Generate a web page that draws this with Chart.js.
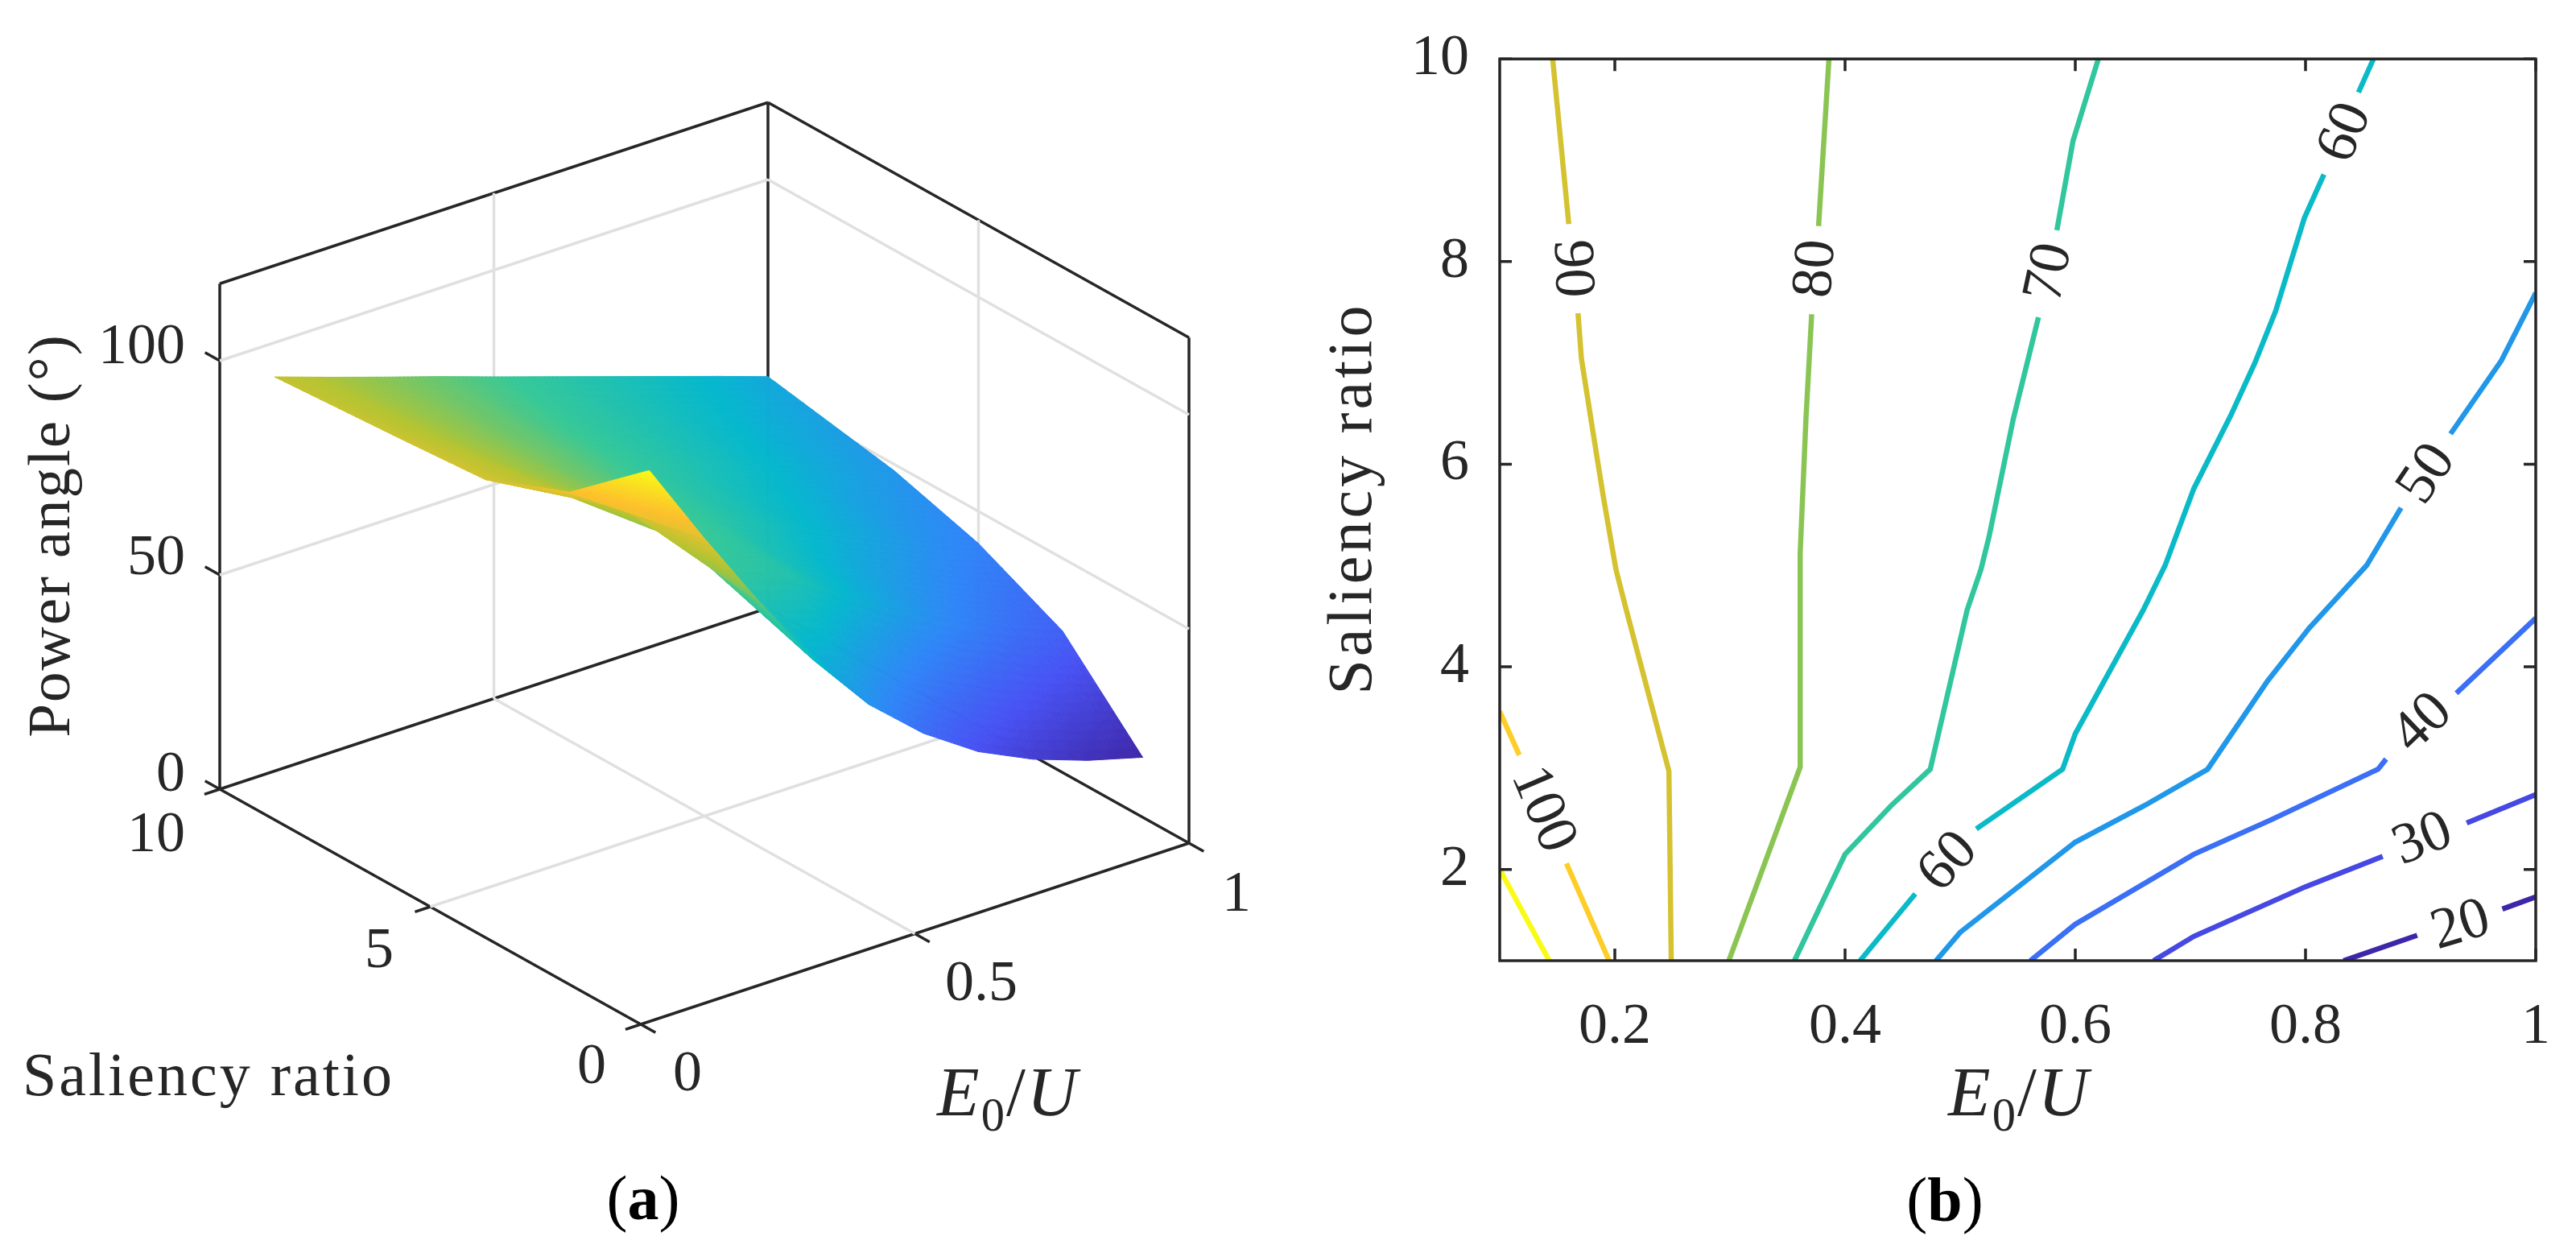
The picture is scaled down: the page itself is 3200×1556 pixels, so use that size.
<!DOCTYPE html>
<html>
<head>
<meta charset="utf-8">
<script src="https://cdn.jsdelivr.net/npm/chart.js@4"></script>
<style>
  html, body { margin: 0; background: #fff; width: 3200px; height: 1556px; overflow: hidden; }
  canvas { position: absolute; top: 0; }
  #chart-surface { left: 0; }
  #chart-contour { left: 1600px; }
  .note { position: absolute; font-family: "Liberation Serif", serif; color: #262626; white-space: nowrap; transform: translate(-50%, -50%); }
  .note sub { font-size: 0.68em; }
  .axis-name { font-size: 86px; letter-spacing: 2px; }
  .caption { font-size: 78px; color: #000; }
</style>
</head>
<body>
<canvas id="chart-surface" width="1600" height="1556"></canvas>
<canvas id="chart-contour" width="1600" height="1556"></canvas>
<div class="note axis-name" style="left:1252px;top:1362px"><i>E</i><sub>0</sub>/<i>U</i></div>
<div class="note axis-name" style="left:2508px;top:1362px"><i>E</i><sub>0</sub>/<i>U</i></div>
<div class="note caption" style="left:799px;top:1488px">(<b>a</b>)</div>
<div class="note caption" style="left:2416px;top:1490px">(<b>b</b>)</div>
<script>
// surface data, panel (a)
const e0Values = [0.1, 0.2, 0.3, 0.4, 0.5, 0.6, 0.7, 0.8, 0.9, 1];
const saliencyValues = [1.1, 3, 5, 7, 10];
const angleAtS1 = [119, 99, 80, 62, 47.5, 36.5, 28, 22, 17.5, 14];
const angleAtS3 = [103.5, 95.5, 84, 72, 68, 59, 51, 44, 38, 33];
const angleAtS5 = [95.5, 90, 83.8, 77.5, 71.2, 65, 58.7, 53, 47.3, 42.5];
const angleAtS7 = [94, 88.5, 83.4, 78.3, 73, 68, 63, 57.8, 53, 48.5];
const angleAtS10 = [92, 87.7, 83.5, 79.4, 75.1, 70.9, 66.7, 62.5, 58.3, 54];
const e0Ticks3d = [0, 0.5, 1];
const saliencyTicks3d = [0, 5, 10];
const angleTicks3d = [0, 50, 100];

// contour data, panel (b): [E0/U, saliency], null marks the gap left for the label
const contour110 = [[0.1, 2.0], [0.143, 1.1]];
const contour100 = [[0.1, 3.56], [0.117, 3.13], null, [0.158, 2.06], [0.195, 1.1]];
const contour90 = [[0.146, 10], [0.16, 8.37], null, [0.168, 7.49], [0.171, 7.04], [0.181, 6.32], [0.19, 5.68], [0.201, 4.96], [0.21, 4.56], [0.247, 2.97], [0.249, 1.1]];
const contour80 = [[0.386, 10], [0.377, 8.35], null, [0.371, 7.48], [0.366, 6.44], [0.361, 5.12], [0.361, 3.01], [0.299, 1.1]];
const contour70 = [[0.62, 10], [0.598, 9.19], [0.584, 8.31], null, [0.568, 7.45], [0.546, 6.44], [0.525, 5.28], [0.518, 4.96], [0.506, 4.56], [0.474, 2.99], [0.44, 2.63], [0.4, 2.15], [0.356, 1.1]];
const contour60 = [[0.859, 10], [0.846, 9.67], null, [0.816, 8.86], [0.799, 8.43], [0.774, 7.51], [0.756, 7.0], [0.735, 6.48], [0.703, 5.76], [0.678, 5.0], [0.659, 4.56], [0.6, 3.34], [0.589, 2.99], [0.514, 2.4], null, [0.461, 1.76], [0.413, 1.1]];
const contour50 = [[1, 7.69], [0.97, 7.02], [0.926, 6.3], null, [0.883, 5.57], [0.853, 5.0], [0.803, 4.38], [0.767, 3.86], [0.715, 2.99], [0.66, 2.63], [0.6, 2.27], [0.5, 1.38], [0.479, 1.1]];
const contour40 = [[1, 4.48], [0.931, 3.74], null, [0.87, 3.09], [0.863, 2.99], [0.77, 2.49], [0.703, 2.15], [0.6, 1.46], [0.561, 1.1]];
const contour30 = [[1, 2.74], [0.94, 2.46], null, [0.867, 2.13], [0.8, 1.83], [0.703, 1.34], [0.668, 1.1]];
const contour20 = [[1, 1.73], [0.971, 1.61], null, [0.897, 1.35], [0.833, 1.1]];

const contourLevels = [110, 100, 90, 80, 70, 60, 50, 40, 30, 20];
const contourLines = [contour110, contour100, contour90, contour80, contour70, contour60, contour50, contour40, contour30, contour20];

// inline labels: text, position in data units, angle in degrees
const labelTexts = ['100', '90', '80', '70', '60', '60', '50', '40', '30', '20'];
const labelE0 = [0.137, 0.162, 0.3755, 0.578, 0.835, 0.49, 0.906, 0.902, 0.902, 0.935];
const labelSaliency = [2.59, 7.93, 7.93, 7.89, 9.27, 2.07, 5.9, 3.44, 2.29, 1.44];
const labelAngles = [67, 88, -86, -78, -67, -47, -56, -44, -22, -17];

const xTicks = [0.2, 0.4, 0.6, 0.8, 1];
const xTickLabels = ['0.2', '0.4', '0.6', '0.8', '1'];
const yTicks = [2, 4, 6, 8, 10];

const INK = '#262626';
const GRID_3D = '#e0e0e0';
const SERIF = '"Liberation Serif", serif';

const parulaStops = [
  [62, 38, 168], [72, 82, 244], [46, 135, 247], [5, 184, 205],
  [55, 200, 151], [180, 196, 50], [254, 192, 45], [249, 251, 21],
];

function parula(t) {
  const p = Math.min(Math.max(t, 0), 1) * (parulaStops.length - 1);
  const i = Math.min(Math.floor(p), parulaStops.length - 2);
  const f = p - i;
  const c = parulaStops[i].map((v, k) => Math.round(v + (parulaStops[i + 1][k] - v) * f));
  return `rgb(${c[0]},${c[1]},${c[2]})`;
}

// orthographic view of the 3d box, result is in page units of the scatter scales
function project(e0, saliency, angle) {
  return {
    x: 796 + 681 * e0 - 52.3 * saliency,
    y: 1272 - 225 * e0 - 29.2 * saliency - 5.32 * angle,
  };
}

function segments(list) {
  const out = [];
  list.forEach(([a, b]) => {
    out.push(project(...a), project(...b), { x: NaN, y: NaN });
  });
  return out;
}

function drawText(ctx, text, x, y, { size = 72, rot = 0, spacing = 0, align = 'center' } = {}) {
  ctx.save();
  ctx.translate(x, y);
  ctx.rotate(rot * Math.PI / 180);
  ctx.font = `${size}px ${SERIF}`;
  ctx.letterSpacing = `${spacing}px`;
  ctx.fillStyle = INK;
  ctx.textAlign = align;
  ctx.textBaseline = 'middle';
  ctx.fillText(text, 0, 0);
  ctx.restore();
}

const gridSegments = [
  [[0.5, 0, 0], [0.5, 10, 0]],
  [[0, 5, 0], [1, 5, 0]],
  [[0.5, 10, 0], [0.5, 10, 118]],
  [[1, 5, 0], [1, 5, 118]],
  ...angleTicks3d.slice(1).flatMap(z => [
    [[0, 10, z], [1, 10, z]],
    [[1, 10, z], [1, 0, z]],
  ]),
];

const boxSegments = [
  [[0, 10, 0], [0, 0, 0]],
  [[0, 0, 0], [1, 0, 0]],
  [[1, 0, 0], [1, 10, 0]],
  [[1, 10, 0], [0, 10, 0]],
  [[0, 10, 0], [0, 10, 118]],
  [[1, 10, 0], [1, 10, 118]],
  [[1, 0, 0], [1, 0, 118]],
  [[0, 10, 118], [1, 10, 118]],
  [[1, 10, 118], [1, 0, 118]],
  ...e0Ticks3d.map(v => [[v, 0, 0], [v, -0.35, 0]]),
  ...saliencyTicks3d.map(v => [[0, v, 0], [-0.028, v, 0]]),
  ...angleTicks3d.map(v => [[0, 10, v], [0, 10.35, v]]),
];

const surfacePlugin = {
  id: 'surface',
  afterDatasetsDraw(chart) {
    const { ctx, scales: { x, y } } = chart;
    const rows = [angleAtS1, angleAtS3, angleAtS5, angleAtS7, angleAtS10];
    const vertex = (i, j) => {
      const p = project(e0Values[i], saliencyValues[j], rows[j][i]);
      return { px: x.getPixelForValue(p.x), py: y.getPixelForValue(p.y), z: rows[j][i] };
    };
    const N = 14;
    const shade = (a, b, c) => {
      const at = (m, n) => {
        const l = 1 - m / N - n / N;
        return {
          px: a.px * l + b.px * m / N + c.px * n / N,
          py: a.py * l + b.py * m / N + c.py * n / N,
          z: a.z * l + b.z * m / N + c.z * n / N,
        };
      };
      const tri = (p, q, r) => {
        const col = parula(((p.z + q.z + r.z) / 3 - 14) / 105);
        ctx.fillStyle = col;
        ctx.strokeStyle = col;
        ctx.beginPath();
        ctx.moveTo(p.px, p.py);
        ctx.lineTo(q.px, q.py);
        ctx.lineTo(r.px, r.py);
        ctx.closePath();
        ctx.fill();
        ctx.stroke();
      };
      for (let m = 0; m < N; m++) {
        for (let n = 0; n < N - m; n++) {
          tri(at(m, n), at(m + 1, n), at(m, n + 1));
          if (m + n < N - 1) tri(at(m + 1, n), at(m + 1, n + 1), at(m, n + 1));
        }
      }
    };
    ctx.save();
    ctx.lineWidth = 1;
    // far cells first, the low corner of the surface folds over the rest
    for (let i = e0Values.length - 2; i >= 0; i--) {
      for (let j = saliencyValues.length - 2; j >= 0; j--) {
        shade(vertex(i + 1, j + 1), vertex(i, j + 1), vertex(i + 1, j));
        shade(vertex(i, j), vertex(i + 1, j), vertex(i, j + 1));
      }
    }
    ctx.restore();
  },
  afterDraw(chart) {
    const { ctx } = chart;
    drawText(ctx, '100', 230, 432, { align: 'right' });
    drawText(ctx, '50', 230, 694, { align: 'right' });
    drawText(ctx, '0', 230, 963, { align: 'right' });
    drawText(ctx, '10', 194, 1038);
    drawText(ctx, '5', 471, 1182);
    drawText(ctx, '0', 735, 1326);
    drawText(ctx, '0', 854, 1335);
    drawText(ctx, '0.5', 1219, 1223);
    drawText(ctx, '1', 1536, 1112);
    drawText(ctx, 'Power angle (°)', 66, 665, { rot: -90, size: 75, spacing: 2 });
    drawText(ctx, 'Saliency ratio', 259, 1340, { size: 76, spacing: 3 });
  },
};

const frameTicksPlugin = {
  id: 'frameTicks',
  afterDraw(chart) {
    const { ctx, chartArea: a, scales: { x, y } } = chart;
    const len = 15;
    ctx.save();
    ctx.strokeStyle = INK;
    ctx.lineWidth = 3.5;
    ctx.strokeRect(a.left, a.top, a.right - a.left, a.bottom - a.top);
    ctx.beginPath();
    xTicks.forEach(v => {
      const px = x.getPixelForValue(v);
      ctx.moveTo(px, a.bottom); ctx.lineTo(px, a.bottom - len);
      ctx.moveTo(px, a.top); ctx.lineTo(px, a.top + len);
    });
    yTicks.forEach(v => {
      const py = y.getPixelForValue(v);
      ctx.moveTo(a.left, py); ctx.lineTo(a.left + len, py);
      ctx.moveTo(a.right, py); ctx.lineTo(a.right - len, py);
    });
    ctx.stroke();
    ctx.restore();
    labelTexts.forEach((t, i) => {
      drawText(ctx, t, x.getPixelForValue(labelE0[i]), y.getPixelForValue(labelSaliency[i]), { rot: labelAngles[i] });
    });
    drawText(ctx, 'Saliency ratio', 83, 619, { rot: -90, size: 78, spacing: 4 });
  },
};

function init() {
  new Chart(document.getElementById('chart-surface'), {
    type: 'scatter',
    plugins: [surfacePlugin],
    data: {
      datasets: [
        { data: segments(gridSegments), showLine: true, borderColor: GRID_3D, borderWidth: 3.5, pointRadius: 0 },
        { data: segments(boxSegments), showLine: true, borderColor: INK, borderWidth: 3.5, pointRadius: 0 },
      ],
    },
    options: {
      responsive: false,
      animation: false,
      devicePixelRatio: 1,
      plugins: { legend: { display: false }, tooltip: { enabled: false } },
      scales: {
        x: { type: 'linear', min: 0, max: 1600, display: false },
        y: { type: 'linear', min: 0, max: 1556, reverse: true, display: false },
      },
    },
  });

  new Chart(document.getElementById('chart-contour'), {
    type: 'scatter',
    plugins: [frameTicksPlugin],
    data: {
      datasets: contourLines.map((line, i) => ({
        label: String(contourLevels[i]),
        data: line.map(p => (p ? { x: p[0], y: p[1] } : { x: NaN, y: NaN })),
        showLine: true,
        borderColor: parula((contourLevels[i] - 20) / 90),
        borderWidth: 6.5,
        pointRadius: 0,
      })),
    },
    options: {
      responsive: false,
      animation: false,
      devicePixelRatio: 1,
      layout: { padding: { left: 0, right: 47, top: 54, bottom: 203 } },
      plugins: { legend: { display: false }, tooltip: { enabled: false } },
      scales: {
        x: {
          type: 'linear', min: 0.1, max: 1,
          grid: { display: false }, border: { display: false },
          afterBuildTicks: s => { s.ticks = xTicks.map(v => ({ value: v })); },
          afterFit: s => { s.height = 160; },
          ticks: {
            autoSkip: false, maxRotation: 0, padding: 32, color: INK,
            font: { family: SERIF, size: 72 },
            callback: v => xTickLabels[xTicks.indexOf(v)],
          },
        },
        y: {
          type: 'linear', min: 1.1, max: 10,
          grid: { display: false }, border: { display: false },
          afterBuildTicks: s => { s.ticks = yTicks.map(v => ({ value: v })); },
          afterFit: s => { s.width = 263; },
          ticks: {
            autoSkip: false, padding: 30, color: INK,
            font: { family: SERIF, size: 72 },
          },
        },
      },
    },
  });
}

document.addEventListener('DOMContentLoaded', init);
</script>
</body>
</html>
